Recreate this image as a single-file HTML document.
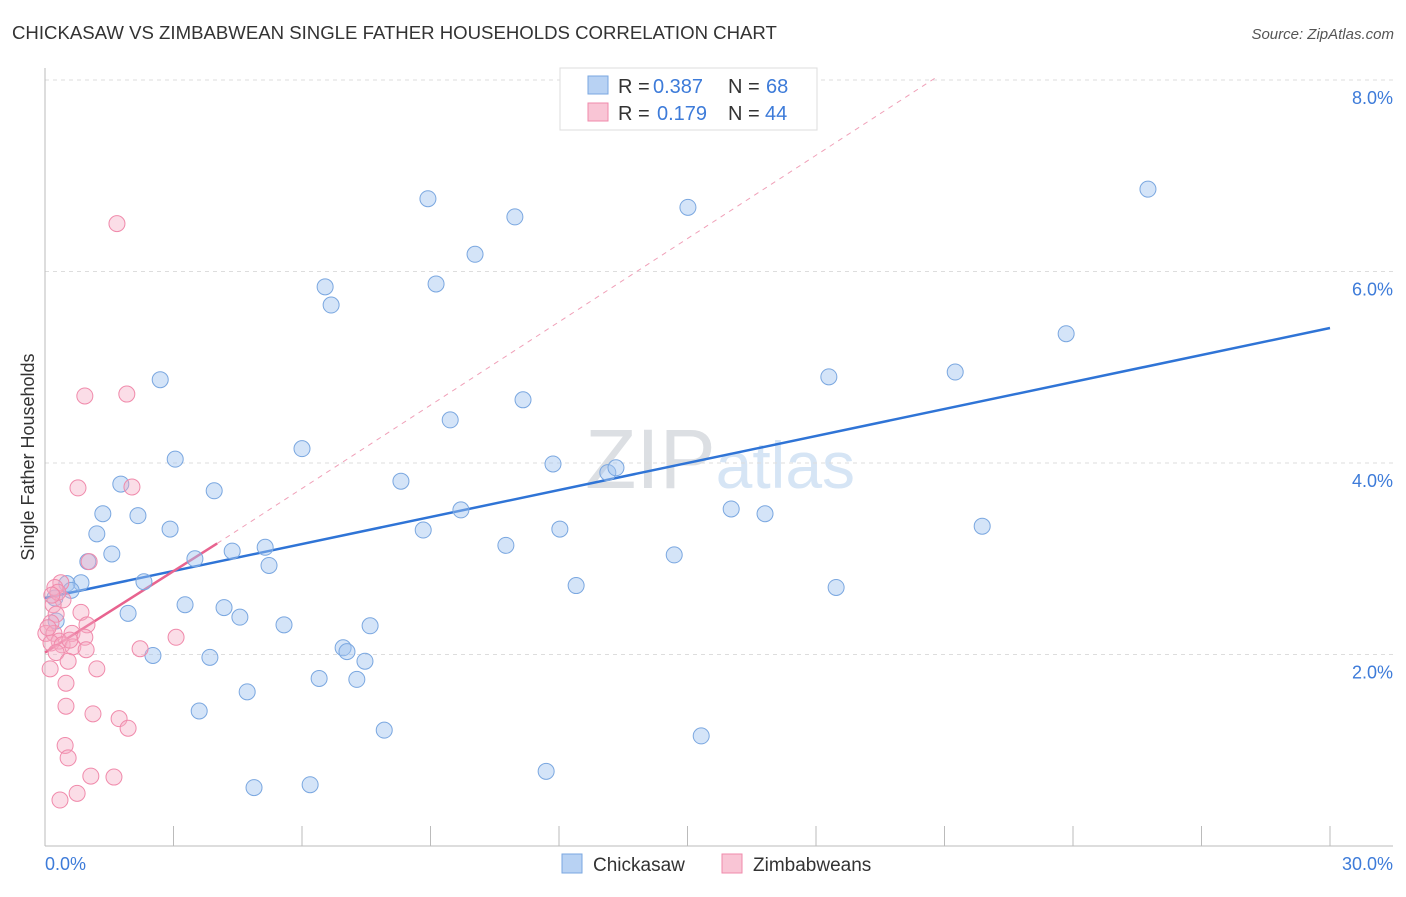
<!DOCTYPE html>
<html><head><meta charset="utf-8"><style>
body{margin:0;background:#fff;font-family:"Liberation Sans",sans-serif;}
svg text{font-family:"Liberation Sans",sans-serif;}
</style></head><body>
<svg id="chart" width="1406" height="892" xmlns="http://www.w3.org/2000/svg">
<text x="12" y="39" font-size="18.6" fill="#333">CHICKASAW VS ZIMBABWEAN SINGLE FATHER HOUSEHOLDS CORRELATION CHART</text>
<text x="1394" y="39" font-size="15" fill="#555" text-anchor="end" font-style="italic">Source: ZipAtlas.com</text>
<text x="720" y="488" font-size="84" fill="#e2e5e9" text-anchor="middle" font-family="Liberation Serif"><tspan fill="#dcdfe3">ZIP</tspan><tspan fill="#d6e5f5" font-family="Liberation Sans" font-size="66">atlas</tspan></text>
<g id="grid"></g>
<g id="axes"></g>
<g id="trends"></g>
<g id="points"></g>
<text transform="translate(34,457) rotate(-90)" font-size="18" fill="#333" text-anchor="middle">Single Father Households</text>
<g>
<rect x="560" y="68" width="257" height="62" fill="#fff" stroke="#ddd"/>
<rect x="588" y="76" width="20" height="18" fill="#b8d2f3" stroke="#7aa7e0"/>
<text x="618" y="93" font-size="20" fill="#333">R =</text>
<text x="653" y="93" font-size="20" fill="#3d7bd9">0.387</text>
<text x="728" y="93" font-size="20" fill="#333">N =</text>
<text x="766" y="93" font-size="20" fill="#3d7bd9">68</text>
<rect x="588" y="103" width="20" height="18" fill="#f9c5d5" stroke="#f08aab"/>
<text x="618" y="120" font-size="20" fill="#333">R =</text>
<text x="657" y="120" font-size="20" fill="#3d7bd9">0.179</text>
<text x="728" y="120" font-size="20" fill="#333">N =</text>
<text x="765" y="120" font-size="20" fill="#3d7bd9">44</text>
</g>
<g>
<rect x="562" y="854" width="20" height="19" fill="#b8d2f3" stroke="#7aa7e0"/>
<text x="593" y="871" font-size="19" fill="#333">Chickasaw</text>
<rect x="722" y="854" width="20" height="19" fill="#f9c5d5" stroke="#f08aab"/>
<text x="753" y="871" font-size="19" fill="#333">Zimbabweans</text>
</g>
</svg>
<script>
const blueX=[8.94,10.97,15.01,25.75,10.04,6.54,9.13,6.68,23.84,2.69,18.30,21.25,11.16,9.46,6.00,3.04,11.86,13.14,13.33,8.31,1.77,3.95,16.02,16.81,9.71,1.35,2.17,21.88,2.92,8.83,12.02,1.21,10.76,4.37,5.14,1.56,3.50,14.69,5.23,1.00,2.31,0.84,0.51,12.40,18.47,0.61,0.23,3.27,4.18,1.94,4.55,5.58,7.59,0.26,6.96,7.05,2.52,7.47,3.85,6.40,7.28,4.72,3.60,7.92,15.32,11.70,4.88,6.19];
const blueY=[6.76,6.57,6.67,6.86,6.18,5.84,5.87,5.65,5.35,4.87,4.90,4.95,4.66,4.45,4.15,4.04,3.99,3.90,3.95,3.81,3.78,3.71,3.52,3.47,3.51,3.47,3.45,3.34,3.31,3.30,3.31,3.26,3.14,3.08,3.12,3.05,3.00,3.04,2.93,2.97,2.76,2.75,2.74,2.72,2.70,2.67,2.59,2.52,2.49,2.43,2.39,2.31,2.30,2.35,2.07,2.03,1.99,1.93,1.97,1.75,1.74,1.61,1.41,1.21,1.15,0.78,0.61,0.64];
const pinkX=[1.68,0.93,1.91,0.77,2.03,1.03,0.37,0.23,0.42,0.19,0.84,0.26,0.14,0.98,0.63,0.93,0.02,0.21,0.33,0.14,0.40,0.65,2.22,3.06,0.26,0.96,0.54,1.21,0.12,0.49,0.49,1.12,1.73,1.94,0.47,0.54,1.07,1.61,0.75,0.35,0.07,0.30,0.16,0.58];
const pinkY=[6.50,4.70,4.72,3.74,3.75,2.97,2.75,2.70,2.57,2.52,2.44,2.42,2.33,2.31,2.22,2.18,2.22,2.22,2.14,2.12,2.10,2.08,2.06,2.18,2.02,2.05,1.93,1.85,1.85,1.70,1.46,1.38,1.33,1.23,1.05,0.92,0.73,0.72,0.55,0.48,2.28,2.65,2.62,2.15];
const yTicks=[2,4,6,8];
const yTickLabels=["2.0%","4.0%","6.0%","8.0%"];
const xTicks=[0,3,6,9,12,15,18,21,24,27,30];
const blueTrend=[[0,2.59],[30,5.41]];
const pinkTrend=[[0,2.02],[4.02,3.16]];
const pinkDash=[[4.02,3.16],[20.78,8.02]];
const X0=45,XW=1285,Y0=846,YK=95.75;
const sx=v=>X0+v/30*XW, sy=v=>Y0-v*YK;
const NS="http://www.w3.org/2000/svg";
function mk(t,a,p){const e=document.createElementNS(NS,t);for(const k in a)e.setAttribute(k,a[k]);p.appendChild(e);return e;}
const grid=document.getElementById('grid'),axes=document.getElementById('axes'),tr=document.getElementById('trends'),pts=document.getElementById('points');
yTicks.forEach((v,i)=>{
 const l=mk('line',{x1:45,x2:1393,y1:sy(v),y2:sy(v),stroke:'#ddd','stroke-dasharray':'4,4'},grid);
 
 
 const t=mk('text',{x:1393,y:sy(v)+24,'font-size':18,fill:'#3d7bd9','text-anchor':'end'},axes);
 t.textContent=yTickLabels[i];
 
 
});
const xa=mk('line',{x1:45,x2:1393,y1:846,y2:846,stroke:'#bbb'},axes);


const ya=mk('line',{x1:45,x2:45,y1:68,y2:846,stroke:'#bbb'},axes);


xTicks.forEach(v=>{const l=mk('line',{x1:sx(v),x2:sx(v),y1:826,y2:846,stroke:'#bbb'},axes);
 
 });
const xl0=mk('text',{x:45,y:870,'font-size':18,fill:'#3d7bd9'},axes);xl0.textContent='0.0%';


const xl1=mk('text',{x:1393,y:870,'font-size':18,fill:'#3d7bd9','text-anchor':'end'},axes);xl1.textContent='30.0%';


function line(p,st,dash,name){const l=mk('line',{x1:sx(p[0][0]),y1:sy(p[0][1]),x2:sx(p[1][0]),y2:sy(p[1][1]),stroke:st,'stroke-width':dash?1:2.5},tr);if(dash)l.setAttribute('stroke-dasharray','5,5');
 
 }
line(pinkDash,'#f0a0b8',true,'zimbabwean-trend-extension');
line(blueTrend,'#2f74d6',false,'chickasaw-trend-line');
line(pinkTrend,'#e8638f',false,'zimbabwean-trend-line');
blueX.forEach((v,i)=>{const c=mk('circle',{cx:sx(v),cy:sy(blueY[i]),r:8,fill:'rgba(160,195,240,0.45)',stroke:'#7aa7e0','stroke-width':1},pts);
 
 });
pinkX.forEach((v,i)=>{const c=mk('circle',{cx:sx(v),cy:sy(pinkY[i]),r:8,fill:'rgba(245,170,195,0.4)',stroke:'#f08aab','stroke-width':1},pts);
 
 });
</script>
</body></html>
